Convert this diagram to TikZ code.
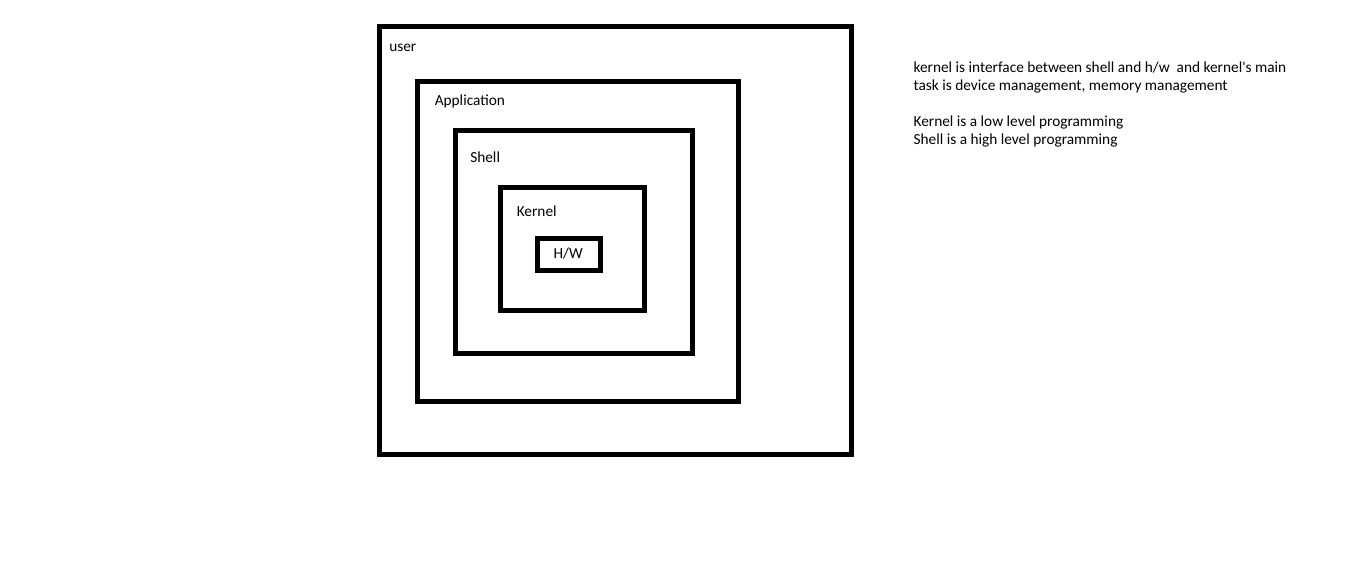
\documentclass[tikz,border=0pt]{standalone}
\usepackage{fontspec}
\setmainfont{Carlito}[Ligatures=TeXOff]
\begin{document}
\begin{tikzpicture}[x=0.75pt,y=-0.75pt,
  layer/.style={draw=black,line width=3.75pt,inner sep=0pt,outer sep=0pt,fill=none},
  lbl/.style={anchor=base west,inner sep=0pt,font=\fontsize{11.5}{13.5}\selectfont,text=black}]
\useasboundingbox[fill=white] (0,0) rectangle (1360,572);
\node[layer,minimum width={472*0.75pt},minimum height={427.5*0.75pt}] (user) at (615.5,240.25) {};
\node[layer,minimum width={321*0.75pt},minimum height={320.5*0.75pt}] (app) at (578,241.25) {};
\node[layer,minimum width={237*0.75pt},minimum height={223*0.75pt}] (shell) at (574,242) {};
\node[layer,minimum width={144*0.75pt},minimum height={123*0.75pt}] (kernel) at (572,248.5) {};
\node[layer,minimum width={62.5*0.75pt},minimum height={31.5*0.75pt}] (hw) at (568.75,254.25) {};
\node[lbl] (tuser) at (389,51.7) {user};
\node[lbl] (tapp) at (434.5,105) {Application};
\node[lbl] (tshell) at (470,162) {Shell};
\node[lbl] (tkernel) at (516.5,216) {Kernel};
\node[lbl] (thw) at (553.3,258.3) {H/W};
\node[lbl] (n1) at (913.3,72.3) {kernel is interface between shell and h/w\ \ and kernel's main};
\node[lbl] (n2) at (913.3,90.3) {task is device management, memory management};
\node[lbl] (n3) at (913.3,126.3) {Kernel is a low level programming};
\node[lbl] (n4) at (913.3,144.3) {Shell is a high level programming};
\end{tikzpicture}
\end{document}
